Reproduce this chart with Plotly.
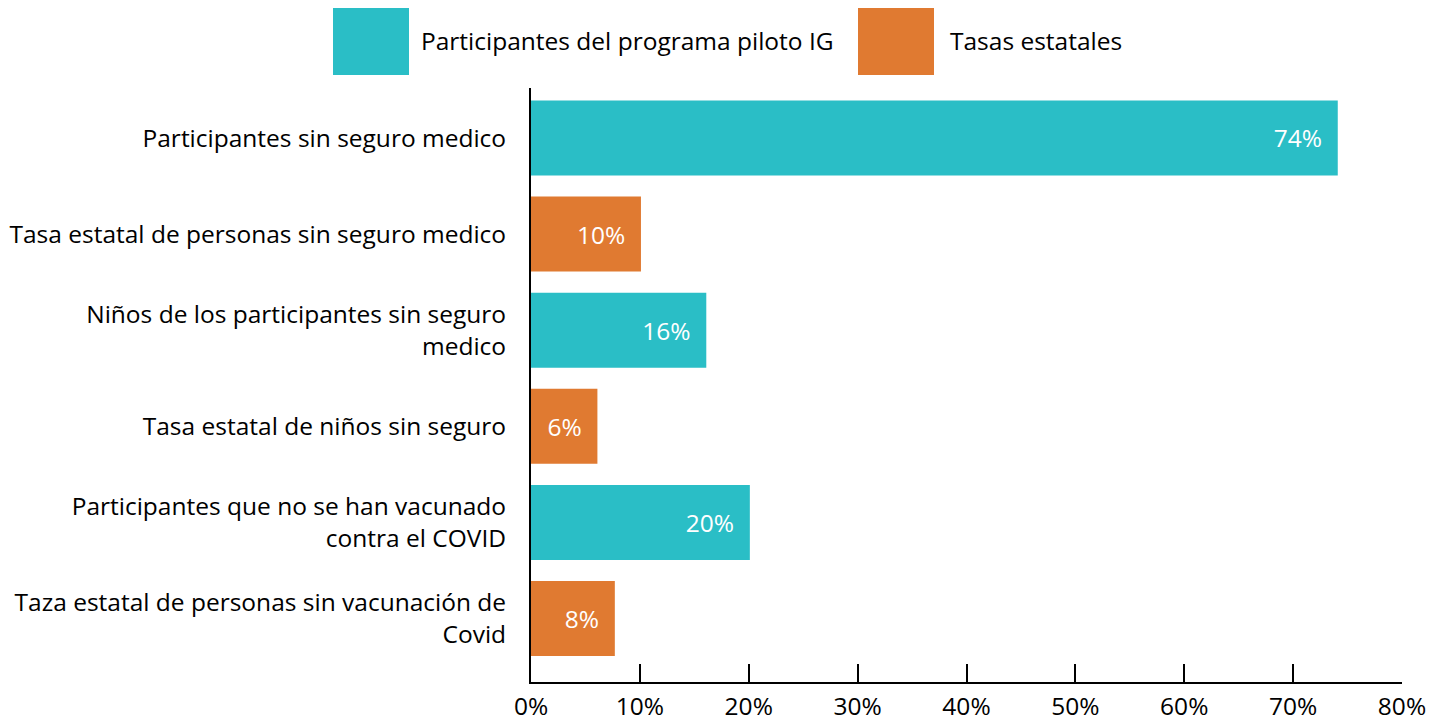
import plotly.graph_objects as go

categories = [
    "Participantes sin seguro medico",
    "Tasa estatal de personas sin seguro medico",
    "Niños de los participantes sin seguro<br>medico",
    "Tasa estatal de niños sin seguro",
    "Participantes que no se han vacunado<br>contra el COVID",
    "Taza estatal de personas sin vacunación de<br>Covid",
]
values = [74.1, 10.1, 16.1, 6.1, 20.1, 7.7]
labels = ["74%", "10%", "16%", "6%", "20%", "8%"]
groups = ["p", "s", "p", "s", "p", "s"]  # p = programa piloto, s = estatal
series_names = {"p": "Participantes del programa piloto IG", "s": "Tasas estatales"}
colors = {"p": "#2ABEC6", "s": "#E07A31"}
x_ticks = [0, 10, 20, 30, 40, 50, 60, 70, 80]

FONT = "Open Sans"
FS = 24.5
W, H = 1445, 721
OFF = 8  # page body margin
L, R, T, B = 523, 51, 80, 47
PW, PH = W - L - R, H - T - B

fig = go.Figure()
for g in ["p", "s"]:
    idx = [i for i, gg in enumerate(groups) if gg == g]
    fig.add_trace(go.Bar(
        orientation="h",
        y=[categories[i] for i in idx],
        x=[values[i] for i in idx],
        text=[labels[i] + "\u00a0\u00a0" for i in idx],
        textposition="inside",
        insidetextanchor="end",
        textangle=0,
        constraintext="none",
        textfont=dict(color="white", size=FS, family=FONT),
        marker=dict(color=colors[g], line=dict(width=0)),
        name=series_names[g],
        showlegend=False,
    ))

def xp(px):
    return (px - OFF - L) / PW

def yp(py):
    return 1 - (py - OFF - T) / PH

# custom legend (large swatches)
legend_items = [("p", 333, 409, 419), ("s", 858, 934, 948)]
for g, x0, x1, tx in legend_items:
    fig.add_shape(type="rect", xref="paper", yref="paper",
                  x0=xp(x0), x1=xp(x1), y0=yp(75), y1=yp(8),
                  fillcolor=colors[g], line=dict(width=0))
    fig.add_annotation(xref="paper", yref="paper", x=xp(tx), y=yp(41),
                       text=series_names[g], showarrow=False,
                       xanchor="left", yanchor="middle",
                       font=dict(size=FS, family=FONT, color="black"))

fig.update_layout(
    width=W, height=H,
    margin=dict(l=L, r=R, t=T, b=B, autoexpand=False),
    paper_bgcolor="white", plot_bgcolor="white",
    barmode="overlay", bargap=0.22,
    font=dict(family=FONT, size=FS, color="black"),
    showlegend=False,
    xaxis=dict(
        range=[0, 80], tickvals=x_ticks,
        ticktext=[f"{v}%" for v in x_ticks],
        ticks="inside", ticklen=18, tickwidth=2, tickcolor="black",
        showline=True, linewidth=2, linecolor="black",
        showgrid=False, zeroline=False, automargin=False,
        ticklabelstandoff=2,
        tickfont=dict(size=FS, family=FONT, color="black"),
    ),
    yaxis=dict(
        categoryorder="array", categoryarray=categories,
        range=[5.66, -0.52],
        showline=True, linewidth=2, linecolor="black",
        ticks="", showgrid=False, zeroline=False, automargin=False,
        ticklabelstandoff=18,
        tickfont=dict(size=FS, family=FONT, color="black"),
    ),
)

fig.write_html("out.html")
